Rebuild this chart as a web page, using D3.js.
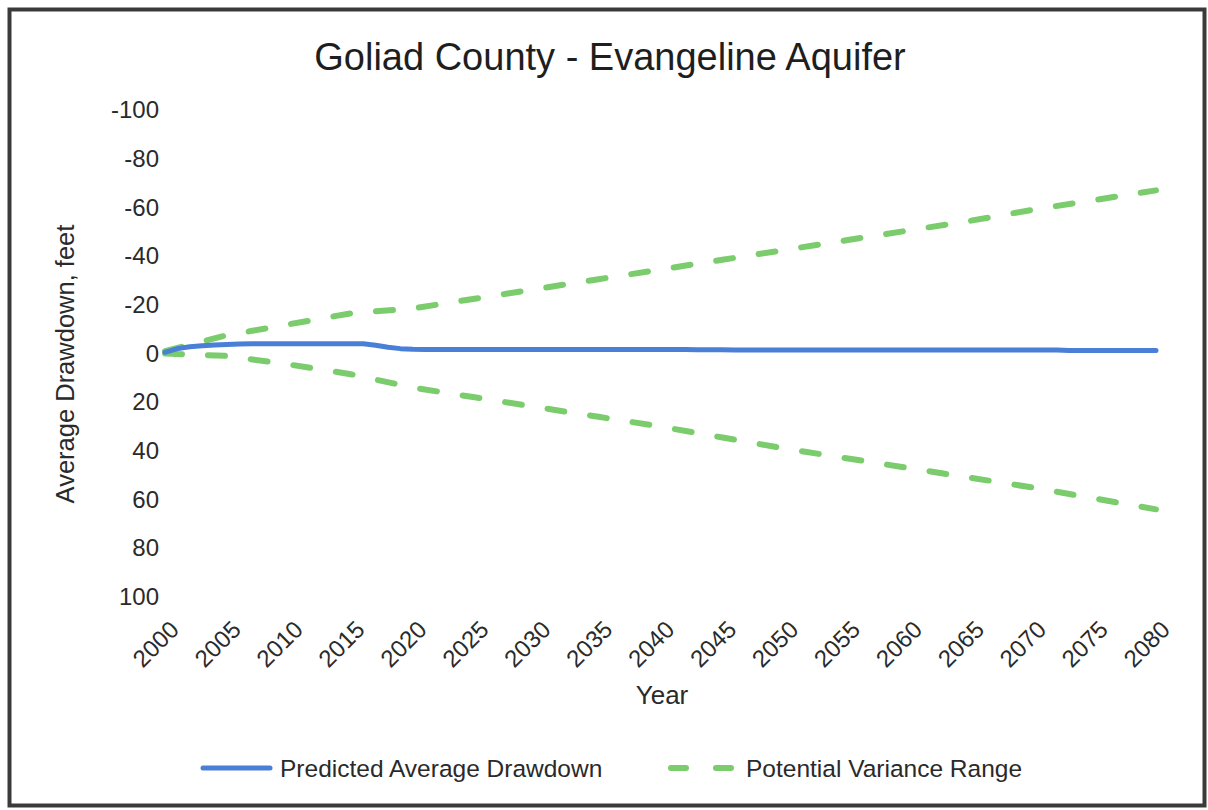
<!DOCTYPE html>
<html>
<head>
<meta charset="utf-8">
<script src="https://cdn.jsdelivr.net/npm/d3@7"></script>
<style>
  html, body { margin: 0; padding: 0; background: #fff; }
  svg { display: block; font-family: "Liberation Sans", Arial, sans-serif; }
</style>
</head>
<body>
<svg id="chart" width="1208" height="810"></svg>
<script>
// ---- Data ----
const chartTitle = "Goliad County - Evangeline Aquifer";
const xTitle = "Year";
const yTitle = "Average Drawdown, feet";
const seriesNames = ["Predicted Average Drawdown", "Potential Variance Range"];

// Predicted average drawdown, yearly 2000..2080 (negative = rise, plotted upward)
const years = [2000,2001,2002,2003,2004,2005,2006,2007,2008,2009,2010,2011,2012,2013,2014,2015,2016,2017,2018,2019,2020,
  2021,2022,2023,2024,2025,2026,2027,2028,2029,2030,2031,2032,2033,2034,2035,2036,2037,2038,2039,2040,
  2041,2042,2043,2044,2045,2046,2047,2048,2049,2050,2051,2052,2053,2054,2055,2056,2057,2058,2059,2060,
  2061,2062,2063,2064,2065,2066,2067,2068,2069,2070,2071,2072,2073,2074,2075,2076,2077,2078,2079,2080];
const predicted = [-0.5,-2.0,-2.8,-3.2,-3.5,-3.7,-3.9,-4.0,-4.0,-4.0,-4.0,-4.0,-4.0,-4.0,-4.0,-4.0,-4.0,-3.4,-2.6,-2.0,-1.7,
  -1.6,-1.6,-1.6,-1.6,-1.6,-1.6,-1.6,-1.6,-1.6,-1.6,-1.6,-1.6,-1.6,-1.6,-1.6,-1.6,-1.6,-1.6,-1.6,-1.6,
  -1.6,-1.6,-1.5,-1.5,-1.5,-1.4,-1.4,-1.4,-1.4,-1.4,-1.4,-1.4,-1.4,-1.4,-1.4,-1.4,-1.4,-1.4,-1.4,-1.4,
  -1.4,-1.4,-1.4,-1.4,-1.4,-1.4,-1.4,-1.4,-1.4,-1.4,-1.4,-1.4,-1.2,-1.2,-1.2,-1.2,-1.2,-1.2,-1.2,-1.2];

// Potential variance range (upper / lower bounds), every 5 years
const rangeYears = [2000,2005,2010,2015,2020,2025,2030,2035,2040,2045,2050,2055,2060,2065,2070,2075,2080];
const rangeUpper = [-1,-7.5,-12,-16.5,-18.5,-22.5,-26.5,-30.5,-34.5,-38.5,-42.5,-46.5,-50.5,-54.5,-59,-63,-67];
const rangeLower = [0,1,4.5,8.5,14,18,22,26,30,34.5,39,43,47,51,55,59.5,64];

// Tick values
const xTicks = [2000,2005,2010,2015,2020,2025,2030,2035,2040,2045,2050,2055,2060,2065,2070,2075,2080];
const yTicks = [-100,-80,-60,-40,-20,0,20,40,60,80,100];

// ---- Layout ----
const svg = d3.select("#chart");
const W = 1208, H = 810;
const plot = { left: 165, right: 1156, top: 110, bottom: 597 };
const blue = "#4a7fd8";
const green = "#7bcc6c";
const textColor = "#2a2a2a";
const FONT = "'Liberation Sans', Arial, sans-serif";

svg.append("rect").attr("x", 0).attr("y", 0).attr("width", W).attr("height", H).attr("fill", "#fff");
svg.append("rect").attr("x", 9.5).attr("y", 9.5).attr("width", 1195).attr("height", 796)
  .attr("fill", "none").attr("stroke", "#3a3a3a").attr("stroke-width", 4);

const x = d3.scaleLinear().domain([2000, 2080]).range([plot.left, plot.right]);
const y = d3.scaleLinear().domain([-100, 100]).range([plot.top, plot.bottom]);

// Title
svg.append("text").attr("x", 610).attr("y", 70).attr("text-anchor", "middle")
  .attr("font-size", 38).attr("fill", "#1e1e1e").text(chartTitle);

// Y axis
const yAxis = svg.append("g").attr("transform", `translate(${plot.left - 6},0)`)
  .call(d3.axisLeft(y).tickValues(yTicks).tickSize(0).tickPadding(0).tickFormat(d => String(d)));
yAxis.select(".domain").remove();
yAxis.selectAll("text").attr("font-size", 24).attr("fill", textColor).attr("font-family", FONT);

// X axis
const xAxis = svg.append("g").attr("transform", `translate(0,${plot.bottom})`)
  .call(d3.axisBottom(x).tickValues(xTicks).tickSize(0).tickFormat(d => String(d)));
xAxis.select(".domain").remove();
xAxis.selectAll("text")
  .attr("font-size", 24).attr("fill", textColor).attr("font-family", FONT)
  .attr("text-anchor", "end")
  .attr("dy", "0.35em")
  .attr("transform", "translate(9,28) rotate(-45)")
  .attr("y", 0).attr("x", 0);

// Axis titles
svg.append("text").attr("x", 662).attr("y", 704).attr("text-anchor", "middle")
  .attr("font-size", 26).attr("fill", textColor).text(xTitle);
svg.append("text").attr("transform", "translate(74,364) rotate(-90)").attr("text-anchor", "middle")
  .attr("font-size", 25.5).attr("fill", textColor).text(yTitle);

// Lines
const lineGen = d3.line().x(d => x(d[0])).y(d => y(d[1]));
const dash = "17,26";

svg.append("path").datum(rangeYears.map((yr, i) => [yr, rangeUpper[i]]))
  .attr("d", lineGen).attr("fill", "none").attr("stroke", green).attr("stroke-width", 6)
  .attr("stroke-linecap", "round").attr("stroke-dasharray", dash);
svg.append("path").datum(rangeYears.map((yr, i) => [yr, rangeLower[i]]))
  .attr("d", lineGen).attr("fill", "none").attr("stroke", green).attr("stroke-width", 6)
  .attr("stroke-linecap", "round").attr("stroke-dasharray", dash);
svg.append("path").datum(years.map((yr, i) => [yr, predicted[i]]))
  .attr("d", lineGen).attr("fill", "none").attr("stroke", blue).attr("stroke-width", 5)
  .attr("stroke-linecap", "round").attr("stroke-linejoin", "round");

// Legend
const lg = svg.append("g");
lg.append("line").attr("x1", 203).attr("x2", 270).attr("y1", 768).attr("y2", 768)
  .attr("stroke", blue).attr("stroke-width", 5).attr("stroke-linecap", "round");
lg.append("text").attr("x", 280).attr("y", 777).attr("font-size", 24.5).attr("fill", textColor).text(seriesNames[0]);
lg.append("line").attr("x1", 671).attr("x2", 735).attr("y1", 768).attr("y2", 768)
  .attr("stroke", green).attr("stroke-width", 6).attr("stroke-linecap", "round").attr("stroke-dasharray", "15,30");
lg.append("text").attr("x", 746).attr("y", 777).attr("font-size", 24.5).attr("fill", textColor).text(seriesNames[1]);
</script>
</body>
</html>
